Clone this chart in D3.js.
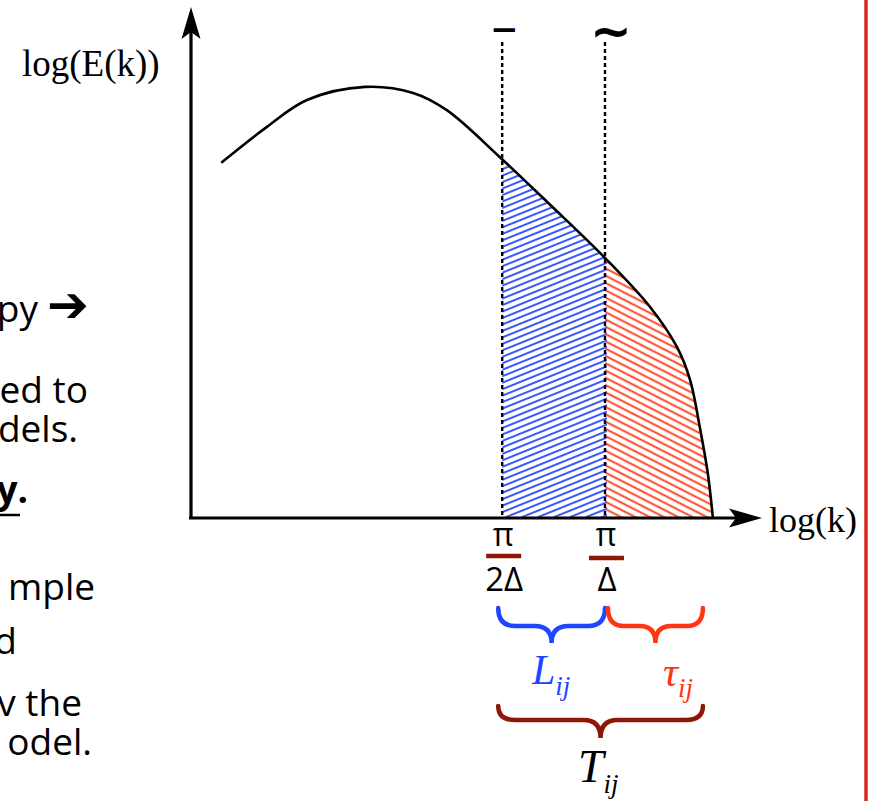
<!DOCTYPE html>
<html>
<head>
<meta charset="utf-8">
<script src="https://cdn.jsdelivr.net/npm/d3@7"></script>
<style>
  body { margin: 0; background: #fff; }
  svg { display: block; }
</style>
</head>
<body>
<svg width="871" height="801"></svg>
<script>
// spectrum E(k), arbitrary log units (0..100 on both axes)
var logK = [5.3, 13.3, 20.3, 30.5, 38.9, 44.8, 54.1, 62.9, 72.5, 80.4, 85.1, 87.4, 89.1, 90.5, 91.4]
var logE = [70.2, 77.3, 82.6, 85.2, 84.0, 80.6, 71.3, 61.9, 51.4, 41.7, 33.8, 27.3, 18.0, 8.9, 0]

// filter cut-offs pi/2Delta and pi/Delta
var cutoffs = [54.5, 72.5]
var cutNum = ['π', 'π']
var cutDen = ['2Δ', 'Δ']
var filterMarks = ['−', '~']

// bracketed ranges and their labels
var braceNames = ['L', 'τ', 'T']
var braceColors = ['#1f45ff', '#ff3514', '#8e1606']

// text from the slide, cut off at the left edge
var sideText = ['py', 'ed to', 'dels.', 'y.', 'mple', 'd', 'v the', 'odel.']

var data = logK.map(function (k, i) { return {k: k, e: logE[i]} })

var svg = d3.select('svg')

var x = d3.scaleLinear().domain([0, 100]).range([191, 762])
var y = d3.scaleLinear().domain([0, 100]).range([518, 12])

var defs = svg.append('defs')

function hatch(id, color, angle, gap) {
  var p = defs.append('pattern')
    .attr('id', id)
    .attr('patternUnits', 'userSpaceOnUse')
    .attr('width', 12).attr('height', gap)
    .attr('patternTransform', 'rotate(' + angle + ')')
  p.append('path')
    .attr('d', 'M-1,' + gap / 2 + 'H13')
    .attr('stroke', color)
    .attr('stroke-width', 1.8)
}
hatch('hatch-blue', '#2246ff', -22, 6)
hatch('hatch-red', '#ff3412', 27, 6.5)

var bands = [
  {id: 'clip-l', from: cutoffs[0], to: cutoffs[1], fill: 'url(#hatch-blue)'},
  {id: 'clip-t', from: cutoffs[1], to: d3.max(logK), fill: 'url(#hatch-red)'}
]

bands.forEach(function (b) {
  defs.append('clipPath').attr('id', b.id)
    .append('rect')
    .attr('x', x(b.from)).attr('y', 0)
    .attr('width', x(b.to) - x(b.from) + 2).attr('height', y(0))
})

var curve = d3.curveCatmullRom.alpha(0.5)

var area = d3.area()
  .curve(curve)
  .x(function (d) { return x(d.k) })
  .y0(y(0))
  .y1(function (d) { return y(d.e) })

var line = d3.line()
  .curve(curve)
  .x(function (d) { return x(d.k) })
  .y(function (d) { return y(d.e) })

svg.selectAll('.band')
  .data(bands)
  .enter()
  .append('path')
  .attr('class', 'band')
  .attr('d', area(data))
  .attr('fill', function (b) { return b.fill })
  .attr('clip-path', function (b) { return 'url(#' + b.id + ')' })

// dotted cut-off lines
svg.selectAll('.cut')
  .data(cutoffs)
  .enter()
  .append('line')
  .attr('class', 'cut')
  .attr('x1', function (d) { return x(d) })
  .attr('x2', function (d) { return x(d) })
  .attr('y1', 42).attr('y2', y(0))
  .attr('stroke', '#000')
  .attr('stroke-width', 2.4)
  .attr('stroke-dasharray', '4,3')

svg.selectAll('.mark')
  .data(filterMarks)
  .enter()
  .append('text')
  .attr('class', 'mark')
  .attr('x', function (d, i) { return x(cutoffs[i]) + (i ? 6 : 2) })
  .attr('y', function (d, i) { return i ? 48 : 41 })
  .attr('text-anchor', 'middle')
  .attr('font-family', 'DejaVu Sans')
  .attr('font-weight', 'bold')
  .attr('font-size', function (d, i) { return i ? 50 : 34 })
  .text(function (d) { return d })

// spectrum curve
svg.append('path')
  .attr('d', line(data))
  .attr('fill', 'none')
  .attr('stroke', '#000')
  .attr('stroke-width', 2.6)

// axes with arrowheads
var x0 = x.range()[0], x1 = x.range()[1]
var y0 = y.range()[0], y1 = y.range()[1]

svg.append('path')
  .attr('d', 'M' + x0 + ',' + (y0 + 1.5) + 'V' + (y1 + 20) + 'M' + (x0 - 2) + ',' + y0 + 'H' + (x1 - 20))
  .attr('stroke', '#000')
  .attr('stroke-width', 3.2)
  .attr('fill', 'none')

svg.append('path')
  .attr('d', 'M' + x0 + ',' + (y1 - 5) + 'L' + (x0 - 9.5) + ',' + (y1 + 27) + 'L' + x0 + ',' + (y1 + 20) + 'L' + (x0 + 9.5) + ',' + (y1 + 27) + 'Z')
  .attr('fill', '#000')

svg.append('path')
  .attr('d', 'M' + x1 + ',' + y0 + 'L' + (x1 - 33) + ',' + (y0 - 9.5) + 'L' + (x1 - 26) + ',' + y0 + 'L' + (x1 - 33) + ',' + (y0 + 9.5) + 'Z')
  .attr('fill', '#000')

svg.append('text')
  .attr('x', 22).attr('y', 76)
  .attr('font-family', 'Liberation Serif')
  .attr('font-size', 37)
  .text('log(E(k))')

svg.append('text')
  .attr('x', x1 + 7).attr('y', y0 + 14)
  .attr('font-family', 'Liberation Serif')
  .attr('font-size', 36)
  .text('log(k)')

// fraction tick labels
var ticks = svg.selectAll('.tick')
  .data(cutoffs)
  .enter()
  .append('g')
  .attr('class', 'tick')
  .attr('transform', function (d) { return 'translate(' + x(d) + ',0)' })

ticks.append('text')
  .attr('x', 1).attr('y', 546)
  .attr('text-anchor', 'middle')
  .attr('font-family', 'Open Sans')
  .attr('font-size', 32)
  .text(function (d, i) { return cutNum[i] })

ticks.append('line')
  .attr('x1', -16).attr('x2', 19)
  .attr('y1', function (d, i) { return i ? 558 : 556 })
  .attr('y2', function (d, i) { return i ? 558 : 556 })
  .attr('stroke', '#8e1606')
  .attr('stroke-width', 4.5)

ticks.append('text')
  .attr('x', 2).attr('y', 591)
  .attr('text-anchor', 'middle')
  .attr('font-family', 'Open Sans')
  .attr('font-size', 33)
  .text(function (d, i) { return cutDen[i] })

// curly braces under the axis
function brace(a, b, top, mid, tip) {
  var m = (a + b) / 2
  var r = Math.min(17, (b - a) / 6)
  return 'M' + a + ',' + top +
    'Q' + a + ',' + mid + ' ' + (a + r) + ',' + mid +
    'L' + (m - r) + ',' + mid +
    'Q' + m + ',' + mid + ' ' + m + ',' + tip +
    'Q' + m + ',' + mid + ' ' + (m + r) + ',' + mid +
    'L' + (b - r) + ',' + mid +
    'Q' + b + ',' + mid + ' ' + b + ',' + top
}

var kEnd = d3.max(logK)
var braces = [
  {a: x(cutoffs[0]) - 4, b: x(cutoffs[1]), top: 608, mid: 626, tip: 643},
  {a: x(cutoffs[1]) + 3, b: x(kEnd) - 10, top: 608, mid: 626, tip: 643},
  {a: x(cutoffs[0]) - 4, b: x(kEnd) - 10, top: 706, mid: 720, tip: 738}
]

svg.selectAll('.brace')
  .data(braces)
  .enter()
  .append('path')
  .attr('class', 'brace')
  .attr('d', function (d) { return brace(d.a, d.b, d.top, d.mid, d.tip) })
  .attr('fill', 'none')
  .attr('stroke', function (d, i) { return braceColors[i] })
  .attr('stroke-width', 4.5)
  .attr('stroke-linecap', 'round')

var labelPos = [[532, 684], [663, 686], [578, 782]]
var labelSize = [42, 42, 46]

braceNames.forEach(function (n, i) {
  var t = svg.append('text')
    .attr('x', labelPos[i][0]).attr('y', labelPos[i][1])
    .attr('font-family', 'Liberation Serif')
    .attr('font-style', 'italic')
    .attr('font-size', labelSize[i])
    .attr('fill', i == 2 ? '#000' : braceColors[i])
    .text(n)
  t.append('tspan')
    .attr('dy', 11)
    .attr('font-size', 27)
    .text('ij')
})

// partial slide text on the left
var sideY = [322, 403, 442, 503, 600, 654, 716, 755]
var sideX = [38, 88, 78, 28, 95, 17, 82, 92]
svg.selectAll('.side')
  .data(sideText)
  .enter()
  .append('text')
  .attr('class', 'side')
  .attr('x', function (d, i) { return sideX[i] })
  .attr('y', function (d, i) { return sideY[i] })
  .attr('text-anchor', 'end')
  .attr('font-family', 'Open Sans')
  .attr('font-size', 37)
  .attr('font-weight', function (d) { return d == 'y.' ? 'bold' : 'normal' })
  .text(function (d) { return d })

svg.append('text')
  .attr('x', 47).attr('y', 322)
  .attr('font-family', 'DejaVu Sans')
  .attr('font-weight', 'bold')
  .attr('font-size', 50)
  .text('➔')

svg.append('line')
  .attr('x1', 0).attr('x2', 20)
  .attr('y1', 515).attr('y2', 515)
  .attr('stroke', '#000').attr('stroke-width', 2.5)

// red frame edge on the right
svg.append('line')
  .attr('x1', 866).attr('x2', 866)
  .attr('y1', 0).attr('y2', 801)
  .attr('stroke', '#d8281a')
  .attr('stroke-width', 3.5)
</script>
</body>
</html>
